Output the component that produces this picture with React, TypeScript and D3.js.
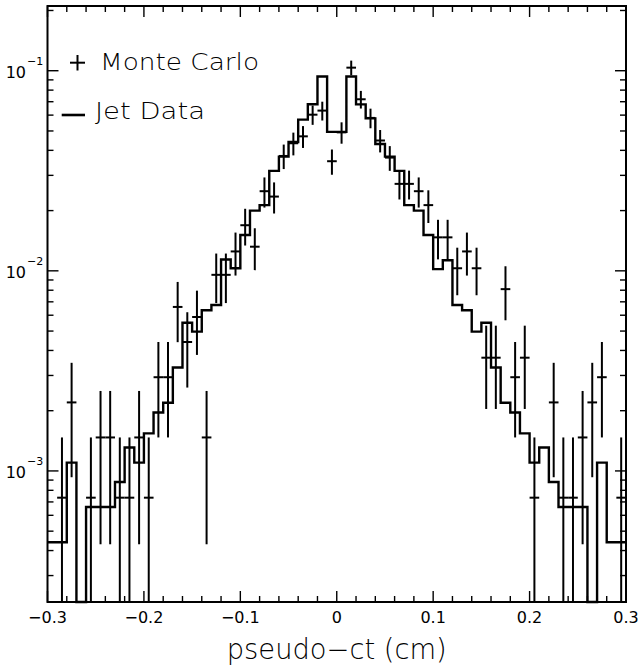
import React from "react";
import * as d3 from "d3";

// ---- data ----
const binStart = -0.3;
const binWidth = 0.01;

// Jet Data histogram (60 bins of 0.01 cm from -0.3 to 0.3)
const jetData: number[] = [
  4.4e-4, 4.4e-4, 1.1e-3, 0, 6.6e-4, 6.6e-4, 6.6e-4, 8.8e-4, 1.31e-3, 1.1e-3,
  1.54e-3, 1.96e-3, 2.19e-3, 3.29e-3, 5.5e-3, 4.97e-3, 6.35e-3, 6.75e-3, 1.14e-2, 1.03e-2,
  1.51e-2, 2.0e-2, 2.13e-2, 3.16e-2, 3.72e-2, 4.4e-2, 5.7e-2, 6.8e-2, 9.35e-2, 4.95e-2,
  4.95e-2, 9.35e-2, 6.79e-2, 5.78e-2, 4.3e-2, 3.72e-2, 3.16e-2, 2.13e-2, 2.0e-2, 1.51e-2,
  1.02e-2, 1.13e-2, 6.75e-3, 6.35e-3, 4.97e-3, 5.5e-3, 3.29e-3, 2.19e-3, 1.96e-3, 1.54e-3,
  1.1e-3, 1.31e-3, 8.8e-4, 6.6e-4, 6.6e-4, 6.6e-4, 0, 1.1e-3, 4.4e-4, 4.4e-4,
];

// Monte Carlo points (null = empty bin)
const mcValues: (number | null)[] = [
  null, 7.35e-4, 2.2e-3, null, 7.35e-4, 1.47e-3, 1.47e-3, 7.35e-4, 7.35e-4, 1.47e-3,
  7.35e-4, 2.94e-3, 2.94e-3, 6.6e-3, 4.41e-3, 5.88e-3, 1.47e-3, 9.55e-3, 9.55e-3, 1.25e-2,
  1.69e-2, 1.32e-2, 2.5e-2, 2.35e-2, 3.75e-2, 4.34e-2, 4.7e-2, 6.03e-2, 6.32e-2, 3.53e-2,
  4.92e-2, 0.1036, 7.2e-2, 5.81e-2, 4.48e-2, 3.68e-2, 2.72e-2, 2.72e-2, 2.5e-2, 2.13e-2,
  1.47e-2, 1.47e-2, 1.03e-2, 1.25e-2, 1.03e-2, 3.68e-3, 3.68e-3, 8.1e-3, 2.94e-3, 3.68e-3,
  7.35e-4, null, 2.2e-3, 7.35e-4, 7.35e-4, 1.47e-3, 2.2e-3, 2.94e-3, null, 7.35e-4,
];

// Monte Carlo error bar half-widths
const mcErrors: (number | null)[] = [
  null, 7.35e-4, 1.27e-3, null, 7.35e-4, 1.04e-3, 1.04e-3, 7.35e-4, 7.35e-4, 1.04e-3,
  7.35e-4, 1.47e-3, 1.47e-3, 2.2e-3, 1.8e-3, 2.08e-3, 1.04e-3, 2.65e-3, 2.65e-3, 3.03e-3,
  3.52e-3, 3.12e-3, 4.29e-3, 4.16e-3, 5.25e-3, 5.65e-3, 5.88e-3, 6.66e-3, 6.82e-3, 5.09e-3,
  6.02e-3, 8.73e-3, 7.28e-3, 6.53e-3, 5.74e-3, 5.2e-3, 4.47e-3, 4.47e-3, 4.29e-3, 3.96e-3,
  3.29e-3, 3.29e-3, 2.75e-3, 3.03e-3, 2.75e-3, 1.64e-3, 1.64e-3, 2.44e-3, 1.47e-3, 1.64e-3,
  7.35e-4, null, 1.27e-3, 7.35e-4, 7.35e-4, 1.04e-3, 1.27e-3, 1.47e-3, null, 7.35e-4,
];

const xTickLabels = ["−0.3", "−0.2", "−0.1", "0", "0.1", "0.2", "0.3"];
const xMajorTicks = [-0.3, -0.2, -0.1, 0, 0.1, 0.2, 0.3];
const yMajorTicks = [1e-1, 1e-2, 1e-3];
const yTickExponents = ["−1", "−2", "−3"];
const xTitle = "pseudo−ct (cm)";
const legendLabels = ["Monte Carlo", "Jet Data"];

// ---- layout ----
const W = 641;
const H = 669;
const L = 47.5;
const R = 626;
const T = 6;
const B = 602;
const FONT = "'DejaVu Sans', Verdana, sans-serif";

export default function App() {
  const x = d3.scaleLinear().domain([-0.3, 0.3]).range([L, R]);
  const y = d3.scaleLog().domain([2.213e-4, 0.2106]).range([B, T]);
  const yMin = y.domain()[0];
  const yb = (v: number) => (v > yMin ? y(v) : B);

  const edges = jetData.map((_, i) => binStart + i * binWidth);
  const histPts: [number, number][] = jetData.map((v, i) => [x(edges[i]), yb(v)]);
  histPts.push([x(binStart + jetData.length * binWidth), yb(jetData[jetData.length - 1])]);
  const histPath = d3.line().curve(d3.curveStepAfter)(histPts) || "";

  const xMinor = d3.range(0, 31).map((i) => -0.3 + i * 0.02);
  const isMajorX = (t: number) => xMajorTicks.some((m) => Math.abs(m - t) < 1e-6);
  const yTicks = y.ticks();
  const isMajorY = (t: number) => yMajorTicks.some((m) => Math.abs(t / m - 1) < 1e-6);

  const majorLen = 11;
  const minorLen = 6;

  return (
    <svg
      width={W}
      height={H}
      style={{ position: "absolute", left: 0, top: 0, background: "#fff" }}
      fontFamily={FONT}
    >
      <rect x={0} y={0} width={W} height={H} fill="#fff" />
      {/* ticks x (bottom & top) */}
      {xMinor.map((t, i) => {
        const len = isMajorX(t) ? majorLen : minorLen;
        const px = x(t);
        return (
          <g key={"xt" + i} stroke="#000" strokeWidth={1.4}>
            <line x1={px} x2={px} y1={B} y2={B - len} />
            <line x1={px} x2={px} y1={T} y2={T + len} />
          </g>
        );
      })}
      {/* ticks y (left & right) */}
      {yTicks.map((t, i) => {
        const len = isMajorY(t) ? majorLen : minorLen;
        const py = y(t);
        return (
          <g key={"yt" + i} stroke="#000" strokeWidth={1.4}>
            <line x1={L} x2={L + len} y1={py} y2={py} />
            <line x1={R} x2={R - len} y1={py} y2={py} />
          </g>
        );
      })}
      {/* histogram */}
      <path d={histPath} fill="none" stroke="#000" strokeWidth={2.4} strokeLinejoin="miter" />
      {/* Monte Carlo crosses */}
      {mcValues.map((v, i) => {
        if (v === null) return null;
        const e = mcErrors[i] ?? 0;
        const c = binStart + (i + 0.5) * binWidth;
        const lo = v - e;
        return (
          <g key={"mc" + i} stroke="#000" strokeWidth={2}>
            <line x1={x(c)} x2={x(c)} y1={y(v + e)} y2={yb(lo)} />
            <line x1={x(c - binWidth / 2)} x2={x(c + binWidth / 2)} y1={y(v)} y2={y(v)} />
          </g>
        );
      })}
      {/* frame */}
      <rect x={L} y={T} width={R - L} height={B - T} fill="none" stroke="#000" strokeWidth={2} />
      {/* x tick labels */}
      {xMajorTicks.map((t, i) => (
        <text key={"xl" + i} x={x(t)} y={623.3} fontSize={16} textAnchor="middle" fill="#000">
          {xTickLabels[i]}
        </text>
      ))}
      {/* y tick labels */}
      {yMajorTicks.map((t, i) => (
        <g key={"yl" + i} fill="#000">
          <text x={26} y={y(t) + 7.5} fontSize={16} textAnchor="end">
            10
          </text>
          <text x={27} y={y(t) - 5.5} fontSize={11} textAnchor="start">
            {yTickExponents[i]}
          </text>
        </g>
      ))}
      {/* x title */}
      <text
        x={(L + R) / 2}
        y={658.5}
        fontSize={28}
        fontWeight={200}
        textAnchor="middle"
        fill="#000"
        textLength={220}
        lengthAdjust="spacingAndGlyphs"
      >
        {xTitle}
      </text>
      {/* legend */}
      <g stroke="#000" strokeWidth={2}>
        <line x1={77.5} x2={77.5} y1={55} y2={70.5} />
        <line x1={70} x2={85} y1={62.7} y2={62.7} />
      </g>
      <text x={100} y={70.3} fontSize={22.5} fontWeight={200} fill="#000" textLength={159} lengthAdjust="spacingAndGlyphs">
        {legendLabels[0]}
      </text>
      <line x1={61.7} x2={85} y1={115} y2={115} stroke="#000" strokeWidth={2.6} />
      <text x={95} y={119} fontSize={22.5} fontWeight={200} fill="#000" textLength={110} lengthAdjust="spacingAndGlyphs">
        {legendLabels[1]}
      </text>
    </svg>
  );
}
